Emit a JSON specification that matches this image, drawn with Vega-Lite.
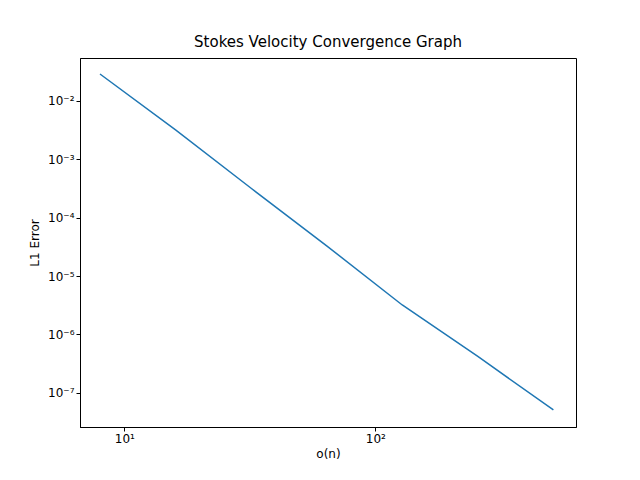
{
"$schema":"https://vega.github.io/schema/vega-lite/v6.json",
"width":496,"height":369,
"autosize":{"type":"none"},
"padding":{"left":80,"top":58,"right":64,"bottom":53},
"background":"white",
"title":{"text":"Stokes Velocity Convergence Graph","font":"DejaVu Sans","fontSize":15,"fontWeight":"normal","offset":8,"color":"black"},
"data":{"values":[
{"n":8,"err":0.029},{"n":16,"err":0.0032},{"n":32,"err":0.00032},{"n":64,"err":0.000033},
{"n":128,"err":0.0000032},{"n":256,"err":0.00000042},{"n":512,"err":0.000000051}]},
"mark":{"type":"line","color":"#1f77b4","strokeWidth":1.5,"clip":true},
"encoding":{
"x":{"field":"n","type":"quantitative","scale":{"type":"log","domain":[6.66,630],"nice":false},
"axis":{"title":"o(n)","values":[10,100],"labelExpr":"datum.value==10?'10¹':'10²'","grid":false,"titleFontWeight":"normal","titleFont":"DejaVu Sans","titleFontSize":12,"titleColor":"black","labelFont":"DejaVu Sans","labelFontSize":12,"domainColor":"black","tickColor":"black","labelColor":"black","tickSize":4,"titlePadding":4}},
"y":{"field":"err","type":"quantitative","scale":{"type":"log","domain":[2.6e-8,0.0545],"nice":false},
"axis":{"title":"L1 Error","values":[1e-7,1e-6,1e-5,1e-4,1e-3,1e-2],"labelExpr":"'10⁻' + ['⁰','¹','²','³','⁴','⁵','⁶','⁷','⁸','⁹'][round(-log(datum.value)/LN10)]","grid":false,"titleFontWeight":"normal","titleFont":"DejaVu Sans","titleFontSize":12,"titleColor":"black","labelFont":"DejaVu Sans","labelFontSize":12,"domainColor":"black","tickColor":"black","labelColor":"black","tickSize":4,"titlePadding":6}}
},
"config":{"view":{"stroke":"black","strokeWidth":1}}
}
